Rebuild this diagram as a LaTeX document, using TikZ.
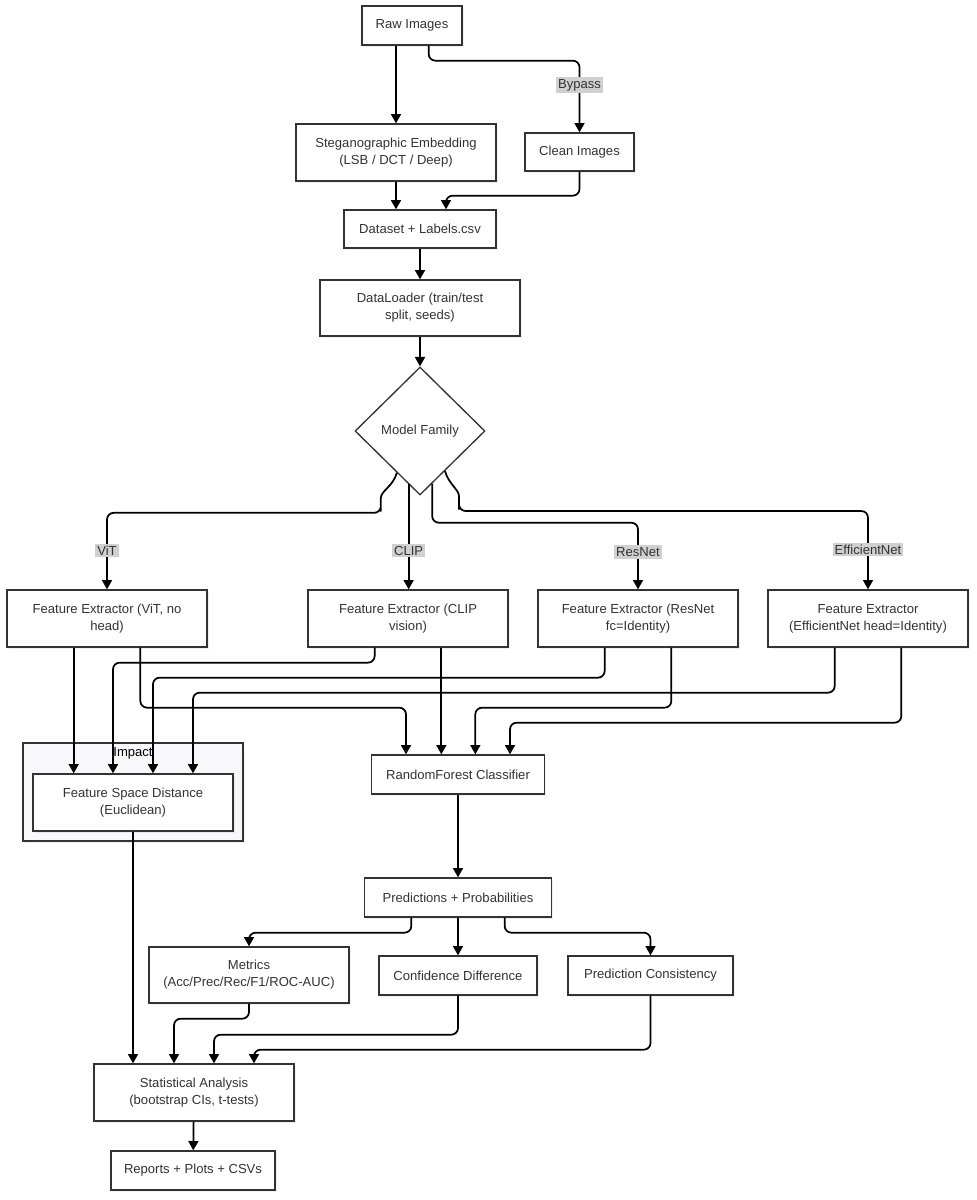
\documentclass[tikz,border=0pt]{standalone}
\usepackage{fontspec}
\setmainfont{Liberation Sans}
\usetikzlibrary{shapes.geometric, arrows.meta, shadows}
\definecolor{inkc}{HTML}{333333}
\definecolor{labelbg}{HTML}{D0D0D0}
\definecolor{groupbg}{HTML}{F8F8FB}
\tikzstyle{process} = [rectangle, minimum width=150pt, minimum height=42.75pt, inner sep=2pt, align=center, draw=inkc, line width=1pt, fill=white, text=inkc, drop shadow={shadow xshift=1.2pt, shadow yshift=-1.2pt, opacity=0.12}]
\tikzstyle{oneline} = [process, minimum height=29.25pt]
\tikzstyle{decision} = [diamond, minimum width=97.5pt, minimum height=96pt, inner sep=0pt, align=center, draw=inkc, line width=1pt, fill=white, text=inkc]
\tikzstyle{group} = [rectangle, minimum width=165pt, minimum height=73.5pt, draw=inkc, line width=0.8pt, fill=groupbg, drop shadow={shadow xshift=1.2pt, shadow yshift=-1.2pt, opacity=0.1}]
\tikzstyle{edgelabel} = [sharp corners, fill=labelbg, text=inkc, inner sep=1.5pt]
\tikzstyle{arrow} = [line width=1.3pt, draw=black, ->, >={Triangle[length=7pt, width=7.5pt]}, rounded corners=5pt]

\begin{document}
\begin{tikzpicture}[x=0.75pt, y=-0.75pt, font=\fontsize{9.8}{12.75}\selectfont]
    \useasboundingbox (0,0) rectangle (977,1200);

    % top part
    \node (raw) [oneline, minimum width=75pt] at (412,25.5) {Raw Images};
    \node (steg) [process] at (396,152.5) {Steganographic Embedding\\(LSB / DCT / Deep)};
    \node (clean) [oneline, minimum width=81.75pt, minimum height=28.5pt] at (579.5,152) {Clean Images};
    \node (dataset) [oneline, minimum width=114pt, minimum height=28.5pt] at (420,229) {Dataset + Labels.csv};
    \node (loader) [process, minimum height=42pt] at (420,308) {DataLoader (train/test\\split, seeds)};
    \node (family) [decision] at (420,431) {Model Family};

    % feature extractors
    \node (vit) [process] at (107,618.5) {Feature Extractor (ViT, no\\head)};
    \node (clip) [process] at (408,618.5) {Feature Extractor (CLIP\\vision)};
    \node (resnet) [process] at (638,618.5) {Feature Extractor (ResNet\\fc=Identity)};
    \node (effnet) [process] at (868,618.5) {Feature Extractor\\(EfficientNet head=Identity)};

    % impact group
    \node (impact) [group] at (133,792) {};
    \node (impacttitle) [anchor=north, inner sep=3.5pt, text=black] at (impact.north) {Impact};
    \node (distance) [process] at (133,802.5) {Feature Space Distance\\(Euclidean)};

    % classifier and results
    \node (forest) [oneline, minimum width=129.75pt] at (458,774.5) {RandomForest Classifier};
    \node (preds) [oneline, minimum width=140.25pt] at (458,897.5) {Predictions + Probabilities};
    \node (metrics) [process, minimum height=42pt] at (249,975) {Metrics\\(Acc/Prec/Rec/F1/ROC-AUC)};
    \node (confdiff) [oneline, minimum width=118.5pt] at (458,975.5) {Confidence Difference};
    \node (consist) [oneline, minimum width=123.75pt] at (650.5,975.5) {Prediction Consistency};
    \node (stats) [process] at (194,1092.5) {Statistical Analysis\\(bootstrap CIs, t-tests)};
    \node (reports) [oneline, minimum width=123pt] at (193,1170.5) {Reports + Plots + CSVs};

    \draw [arrow] (steg.north |- raw.south) -- (steg.north);
    \draw [arrow] ([xshift=12.5pt]raw.south) -- ++(0,15) -| node[edgelabel, pos=0.67] {Bypass} (clean.north);
    \draw [arrow] (steg.south) -- (steg.south |- dataset.north);
    \draw [arrow] (clean.south) -- ++(0,24) -| ([xshift=19.5pt]dataset.north);
    \draw [arrow] (dataset) -- (loader);
    \draw [arrow] (loader) -- (family);

    \draw [arrow] (family.-119) to[out=-105, in=90] ++(-16,32) -- ++(0,8) -| node[edgelabel, pos=0.745] {ViT} (vit.north);
    \draw [arrow] (family.-102) -- node[edgelabel, pos=0.63] {CLIP} (family.-102 |- clip.north);
    \draw [arrow] (family.-77) -- ++(0,39) -| node[edgelabel, pos=0.72] {ResNet} (resnet.north);
    \draw [arrow] (family.-58) to[out=-75, in=90] ++(14,32) -- ++(0,8) -| node[edgelabel, pos=0.745] {EfficientNet} (effnet.north);

    \draw [arrow] ([xshift=-25pt]vit.south) -- ([xshift=-25pt]vit.south |- distance.north);
    \draw [arrow] ([xshift=25pt]vit.south) -- ++(0,60) -| ([xshift=-39pt]forest.north);
    \draw [arrow] ([xshift=-25pt]clip.south) -- ++(0,15) -| ([xshift=-15pt]distance.north);
    \draw [arrow] ([xshift=25pt]clip.south) -- ([xshift=25pt]clip.south |- forest.north);
    \draw [arrow] ([xshift=-25pt]resnet.south) -- ++(0,30) -| ([xshift=15pt]distance.north);
    \draw [arrow] ([xshift=25pt]resnet.south) -- ++(0,60) -| ([xshift=13pt]forest.north);
    \draw [arrow] ([xshift=-25pt]effnet.south) -- ++(0,45) -| ([xshift=45pt]distance.north);
    \draw [arrow] ([xshift=25pt]effnet.south) -- ++(0,75) -| ([xshift=39pt]forest.north);

    \draw [arrow] (forest) -- (preds);
    \draw [arrow] ([xshift=-35pt]preds.south) -- ++(0,15) -| (metrics.north);
    \draw [arrow] (preds) -- (confdiff);
    \draw [arrow] ([xshift=35pt]preds.south) -- ++(0,15) -| (consist.north);

    \draw [arrow] (distance.south) -- (distance.south |- stats.north);
    \draw [arrow] (metrics.south) -- ++(0,15) -| ([xshift=-15pt]stats.north);
    \draw [arrow] (confdiff.south) -- ++(0,39) -| ([xshift=15pt]stats.north);
    \draw [arrow] (consist.south) -- ++(0,54) -| ([xshift=45pt]stats.north);
    \draw [arrow] (stats) -- (reports);

\end{tikzpicture}
\end{document}
